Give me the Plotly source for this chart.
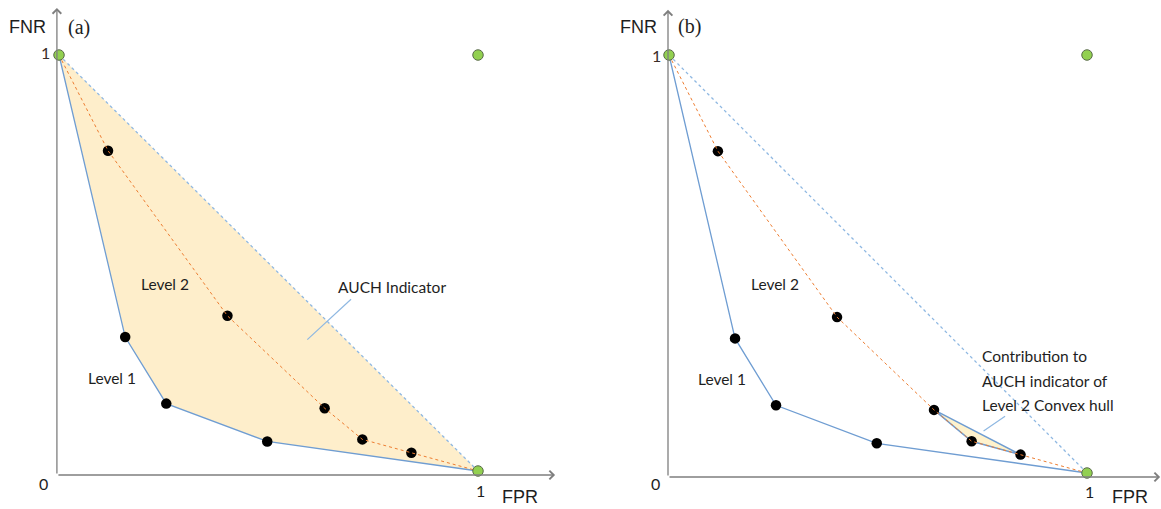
import plotly.graph_objects as go

# ---- data (same in both panels) ----
level1_fpr = [0.158, 0.256, 0.497]
level1_fnr = [0.322, 0.162, 0.071]
level2_fpr = [0.117, 0.402, 0.634, 0.724, 0.841]
level2_fnr = [0.770, 0.373, 0.151, 0.076, 0.044]
ref_fpr = [0.0, 1.0, 1.0]
ref_fnr = [1.0, 0.0, 1.0]
hull_idx = [2, 3, 4]  # level-2 points forming the small convex-hull contribution

BLUE = "#6F9DD2"
LBLUE = "#8FB8E2"
ORANGE = "#ED7D31"
FILL = "#FEEECB"
FILL_B = "#FFF2CC"
GREEN = "#92D050"
AXC = "#7F7F7F"
TXT = "#1E1E1E"
SANS = "Lato, 'Open Sans', sans-serif"
SANS2 = "'Liberation Sans', Arial, sans-serif"
SERIF = "'Liberation Serif', 'DejaVu Serif', serif"

fig = go.Figure()

panels = [("x", "y"), ("x2", "y2")]

for i, (xa, ya) in enumerate(panels):
    c1x = [0.0] + level1_fpr + [1.0]
    c1y = [1.0] + level1_fnr + [0.0]
    c2x = [0.0] + level2_fpr + [1.0]
    c2y = [1.0] + level2_fnr + [0.0]
    if i == 0:
        # AUCH area between level-1 curve and diagonal
        fig.add_trace(go.Scatter(x=c1x + [0.0], y=c1y + [1.0], xaxis=xa, yaxis=ya,
                                 mode="lines", fill="toself", fillcolor=FILL,
                                 line=dict(width=0), hoverinfo="skip"))
    else:
        hx = [level2_fpr[k] for k in hull_idx]
        hy = [level2_fnr[k] for k in hull_idx]
        fig.add_trace(go.Scatter(x=hx + [hx[0]], y=hy + [hy[0]], xaxis=xa, yaxis=ya,
                                 mode="lines", fill="toself", fillcolor=FILL_B,
                                 line=dict(color=BLUE, width=1.5), hoverinfo="skip"))
    # diagonal
    fig.add_trace(go.Scatter(x=[0.0, 1.0], y=[1.0, 0.0], xaxis=xa, yaxis=ya, mode="lines",
                             line=dict(color=LBLUE, width=1.3, dash="dot")))
    # level 1 curve
    fig.add_trace(go.Scatter(x=c1x, y=c1y, xaxis=xa, yaxis=ya, mode="lines",
                             line=dict(color=BLUE, width=1.3)))
    # markers
    fig.add_trace(go.Scatter(x=level1_fpr, y=level1_fnr, xaxis=xa, yaxis=ya, mode="markers",
                             marker=dict(color="black", size=10.5)))
    fig.add_trace(go.Scatter(x=level2_fpr, y=level2_fnr, xaxis=xa, yaxis=ya, mode="markers",
                             marker=dict(color="black", size=10.5)))
    # level 2 curve (on top of markers)
    fig.add_trace(go.Scatter(x=c2x, y=c2y, xaxis=xa, yaxis=ya, mode="lines",
                             line=dict(color=ORANGE, width=1, dash="dot")))
    fig.add_trace(go.Scatter(x=ref_fpr, y=ref_fnr, xaxis=xa, yaxis=ya, mode="markers",
                             marker=dict(color=GREEN, size=10.5,
                                         line=dict(color="#5A6B4A", width=1))))

annotations = []
def txt(xr, yr, x, y, t, size=15, font=SANS, xanchor="center", color=TXT):
    annotations.append(dict(xref=xr, yref=yr, x=x, y=y, text=t, showarrow=False,
                            xanchor=xanchor, yanchor="middle",
                            font=dict(family=font, size=size, color=color)))

def axis_arrow(xr, yr, x0, y0, x1, y1):
    annotations.append(dict(xref=xr, yref=yr, axref=xr, ayref=yr, x=x1, y=y1, ax=x0, ay=y0,
                            text="", showarrow=True, arrowhead=4, arrowsize=1.3,
                            arrowwidth=1.3, arrowcolor=AXC))

def leader(xr, yr, x0, y0, x1, y1):
    annotations.append(dict(xref=xr, yref=yr, axref=xr, ayref=yr, x=x1, y=y1, ax=x0, ay=y0,
                            text="", showarrow=True, arrowhead=0, arrowwidth=1.2,
                            arrowcolor=LBLUE))

TICKC = "#3A2E28"
# panel a
axis_arrow("x", "y", -0.005, -0.0096, -0.005, 1.113)
axis_arrow("x", "y", -0.005, -0.0096, 1.184, -0.0096)
txt("x", "y", -0.076, 1.067, "FNR", 18, SANS2)
txt("x", "y", 0.047, 1.067, "(a)", 20, SERIF)
txt("x", "y", -0.033, 1.005, "1", 16, SANS, color=TICKC)
txt("x", "y", -0.036, -0.029, "0", 16, SANS)
txt("x", "y", 1.005, -0.048, "1", 16, SANS)
txt("x", "y", 1.10, -0.0625, "FPR", 18, SANS2)
txt("x", "y", 0.253, 0.450, "Level 2", 15.5)
txt("x", "y", 0.126, 0.224, "Level 1", 15.5)
txt("x", "y", 0.795, 0.442, "AUCH Indicator", 15.5)
leader("x", "y", 0.589, 0.3125, 0.697, 0.413)

# panel b
axis_arrow("x2", "y2", -0.0024, -0.0096, -0.0024, 1.108)
axis_arrow("x2", "y2", -0.0024, -0.0096, 1.175, -0.0096)
txt("x2", "y2", -0.074, 1.067, "FNR", 18, SANS2)
txt("x2", "y2", 0.050, 1.067, "(b)", 20, SERIF)
txt("x2", "y2", -0.031, 1.0, "1", 16, SANS, color=TICKC)
txt("x2", "y2", -0.033, -0.024, "0", 16, SANS)
txt("x2", "y2", 1.007, -0.045, "1", 16, SANS)
txt("x2", "y2", 1.103, -0.057, "FPR", 18, SANS2)
txt("x2", "y2", 0.254, 0.452, "Level 2", 15.5)
txt("x2", "y2", 0.127, 0.225, "Level 1", 15.5)
for j, line in enumerate(["Contribution to", "AUCH indicator of", "Level 2 Convex hull"]):
    txt("x2", "y2", 0.744, 0.280 - j * 0.059, line, 15.5, xanchor="left")
leader("x2", "y2", 0.749, 0.098, 0.804, 0.136)

ax_common = dict(visible=False, showgrid=False, zeroline=False, fixedrange=True)
fig.update_layout(
    width=1161, height=509,
    margin=dict(l=0, r=0, t=0, b=0),
    paper_bgcolor="white", plot_bgcolor="white",
    showlegend=False,
    xaxis=dict(domain=[0, 0.5], range=[-59 / 419, (580.5 - 59) / 419], **ax_common),
    yaxis=dict(domain=[0, 1], range=[(471 - 509) / 416, 471 / 416], **ax_common),
    xaxis2=dict(domain=[0.5, 1], range=[(580.5 - 669) / 418, (1161 - 669) / 418], **ax_common),
    yaxis2=dict(domain=[0, 1], anchor="x2", range=[(473 - 509) / 418, 473 / 418], **ax_common),
    annotations=annotations,
)

fig.write_html("out.html")
